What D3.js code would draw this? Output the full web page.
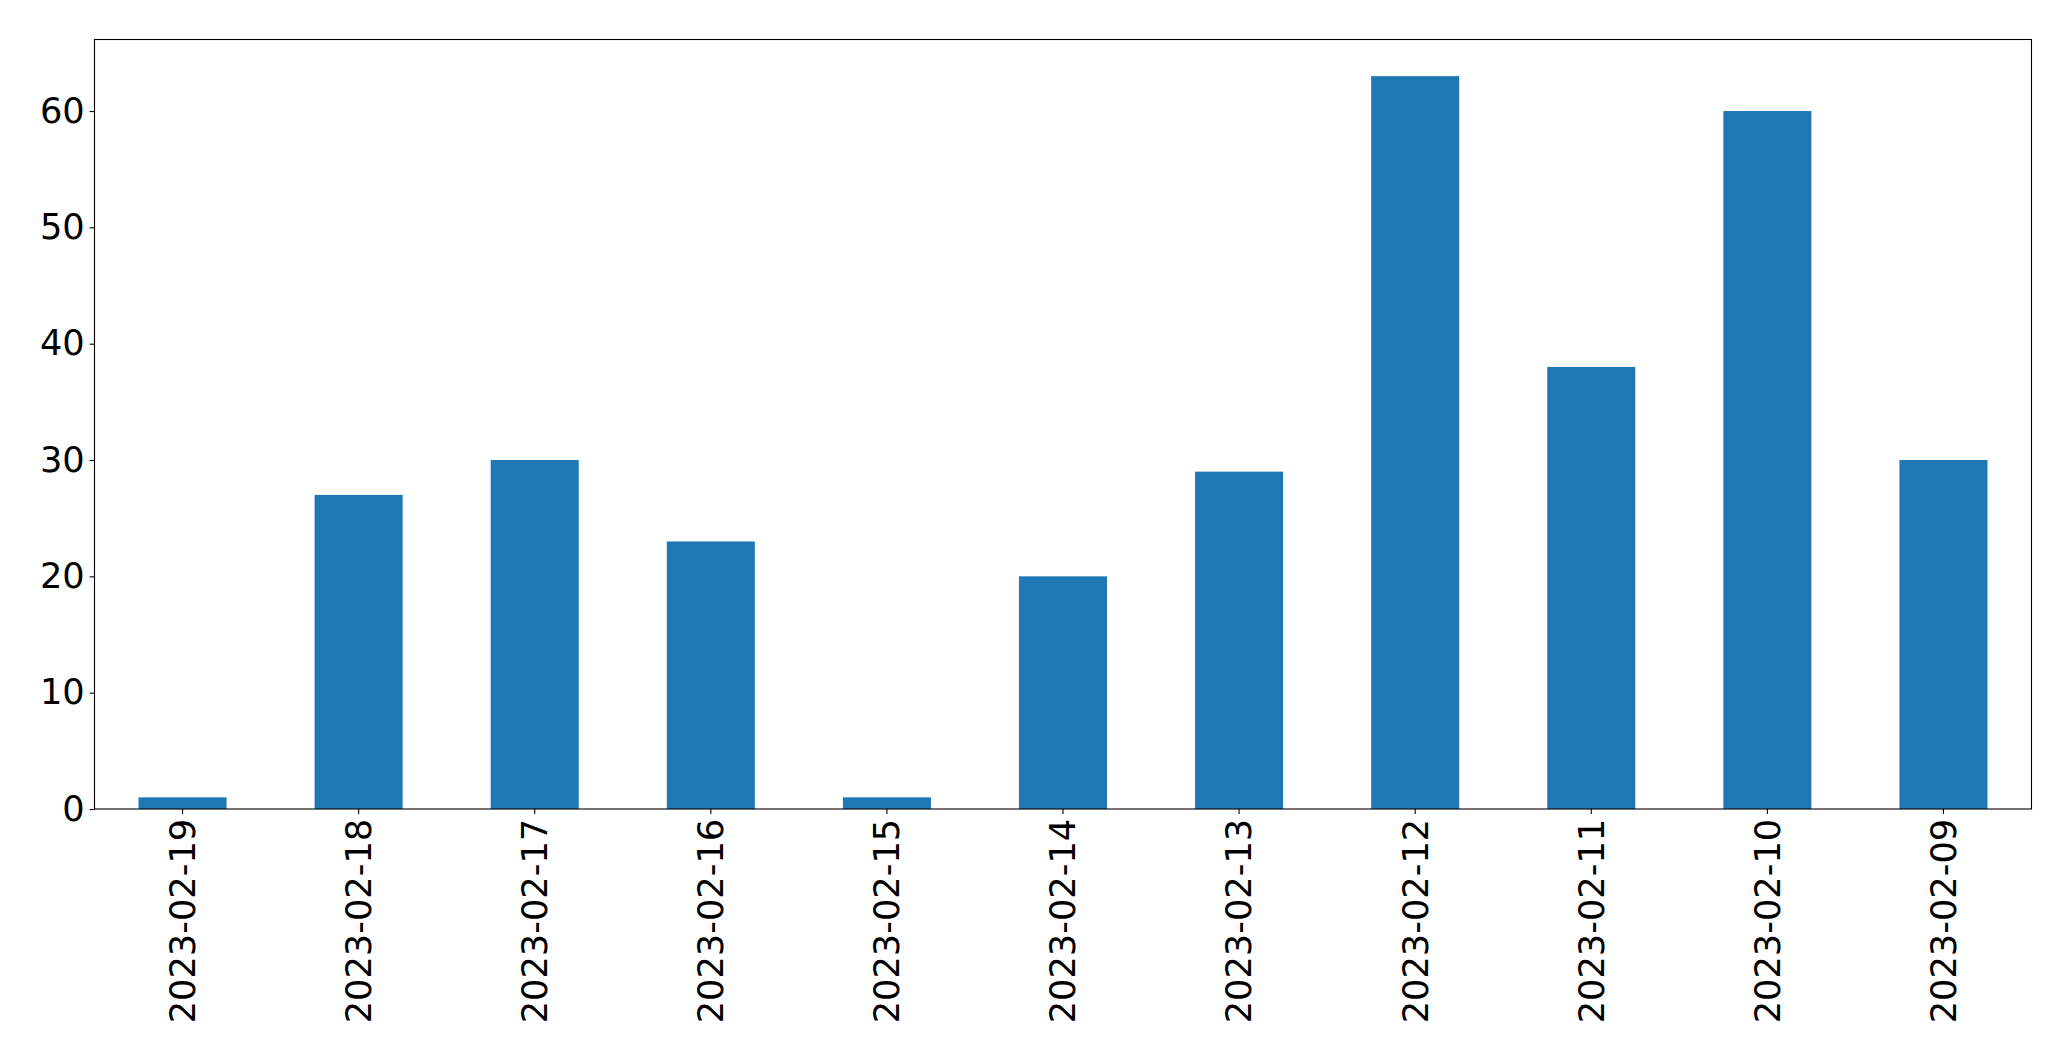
<!DOCTYPE html>
<html>
<head>
<meta charset="utf-8">
<script src="https://cdn.jsdelivr.net/npm/d3@7"></script>
<style>
  html, body { margin: 0; padding: 0; background: #fff; }
  svg { display: block; }
  text { font-family: "DejaVu Sans", sans-serif; }
</style>
</head>
<body>
<svg id="chart" width="2071" height="1061"></svg>
<script>
const categories = ["2023-02-19","2023-02-18","2023-02-17","2023-02-16","2023-02-15","2023-02-14","2023-02-13","2023-02-12","2023-02-11","2023-02-10","2023-02-09"];
const values = [1, 27, 30, 23, 1, 20, 29, 63, 38, 60, 30];
const yTicks = [0, 10, 20, 30, 40, 50, 60];

const W = 2071, H = 1061;
const margin = {left: 94.5, right: 2071 - 2031.5, top: 39.5, bottom: 1061 - 809};
const svg = d3.select("#chart");
const g = svg.append("g").attr("transform", `translate(${margin.left},${margin.top})`);
const iw = W - margin.left - margin.right;
const ih = H - margin.top - margin.bottom;

const x = d3.scaleBand().domain(categories).range([0, iw]).paddingInner(0.5).paddingOuter(0.25);
const y = d3.scaleLinear().domain([0, d3.max(values) * 1.05]).range([ih, 0]);

g.selectAll("rect.bar").data(values).enter().append("rect")
  .attr("class", "bar")
  .attr("x", (d, i) => x(categories[i]))
  .attr("width", x.bandwidth())
  .attr("y", d => y(d))
  .attr("height", d => ih - y(d))
  .attr("fill", "#1f77b4");

const fs = "35.2px";
const yAxis = g.append("g").call(d3.axisLeft(y).tickValues(yTicks).tickSize(4.9).tickPadding(4.9).tickFormat(d3.format("d")));
yAxis.select(".domain").remove();
yAxis.selectAll("line").attr("stroke", "#000").attr("stroke-width", 1.1);
yAxis.selectAll("text").attr("font-size", fs).attr("fill", "#000").attr("font-family", "DejaVu Sans");

const xAxis = g.append("g").attr("transform", `translate(0,${ih})`).call(d3.axisBottom(x).tickSize(4.9).tickPadding(4.9));
xAxis.select(".domain").remove();
xAxis.selectAll("line").attr("stroke", "#000").attr("stroke-width", 1.1);
xAxis.selectAll("text")
  .attr("font-size", fs).attr("fill", "#000").attr("font-family", "DejaVu Sans")
  .attr("transform", "rotate(-90)")
  .attr("text-anchor", "end")
  .attr("dy", "0.35em")
  .attr("x", -9.8)
  .attr("y", 0);

g.append("rect").attr("x", 0).attr("y", 0).attr("width", iw).attr("height", ih)
  .attr("fill", "none").attr("stroke", "#000").attr("stroke-width", 1.1);
</script>
</body>
</html>
